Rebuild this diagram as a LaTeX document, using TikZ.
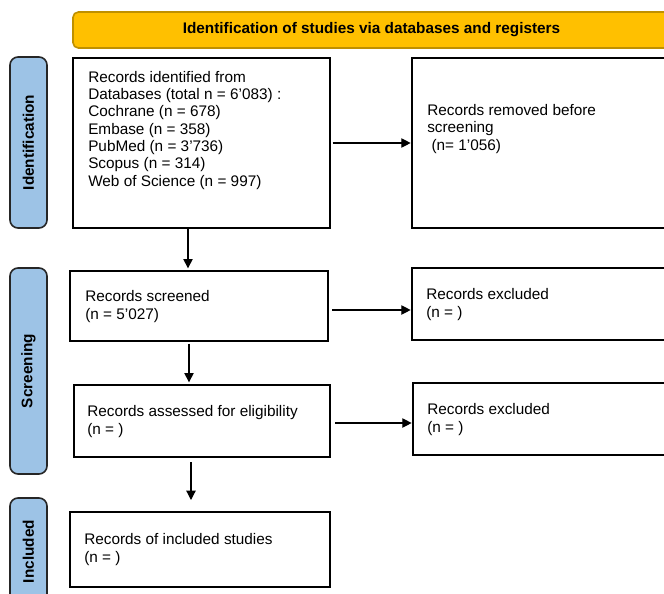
\documentclass[tikz,border=0pt]{standalone}
\usepackage{fontspec}
\setmainfont{Liberation Sans}
\usetikzlibrary{arrows.meta}
\definecolor{bannerfill}{HTML}{FFC000}
\definecolor{bannerline}{HTML}{BF9000}
\definecolor{barfill}{HTML}{9DC3E6}

\begin{document}
\begin{tikzpicture}[x=0.75pt,y=-0.75pt,
	>={Triangle[length=7pt,width=7pt]},
	boxsize/.style 2 args={minimum width=#1*0.75pt,minimum height=#2*0.75pt},
	recbox/.style={draw,line width=1.4pt,inner sep=0pt,outer sep=0pt},
	rectext/.style={anchor=base west,align=left,inner sep=0pt,font=\fontsize{11.5}{13}\selectfont},
	phasebar/.style={draw=black!85,fill=barfill,line width=1.2pt,rounded corners=6pt,rotate=90,inner sep=0pt,font=\fontsize{11.5}{13}\selectfont\bfseries},
	banner/.style={draw=bannerline,fill=bannerfill,line width=1.2pt,rounded corners=4pt,inner sep=0pt,font=\fontsize{11.5}{13}\selectfont\bfseries},
	flow/.style={->,line width=0.9pt}]
	 \useasboundingbox (0,0) rectangle (664,593);
	 \clip (0,0) rectangle (664,593);
	 
	 %Header
	 \node[banner,boxsize={597}{36}] (head) at (371.5,30) {Identification of studies via databases and registers};
	 
	 %Phase bars
	 \node[phasebar,boxsize={171}{37}] (idbar) at (28.5,142.5) {Identification};
	 \node[phasebar,boxsize={206}{37}] (scrbar) at (28.5,371) {Screening};
	 \node[phasebar,boxsize={107}{37}] (incbar) at (28.5,551.5) {Included};
	 
	 %Identification (text nodes sit on the baseline of their last line)
	 \node[recbox,boxsize={257}{170}] (idbox) at (201.5,143) {};
	 \node[rectext] (idtext) at (88,186) {Records identified from\\Databases (total n = 6'083) :\\Cochrane (n = 678)\\Embase (n = 358)\\PubMed (n = 3'736)\\Scopus (n = 314)\\Web of Science (n = 997)};
	 \node[recbox,boxsize={278}{170}] (rmbox) at (551,143) {};
	 \node[rectext] (rmtext) at (427,150) {Records removed before\\screening\\~(n= 1'056)};
	 
	 \draw[flow,shorten <=2pt,shorten >=1pt] (idbox) -- (rmbox);
	 
	 %Screening
	 \node[recbox,boxsize={258}{70}] (scrbox) at (199,306) {};
	 \node[rectext] (scrtext) at (85,319) {Records screened\\(n = 5'027)};
	 \node[recbox,boxsize={278}{72}] (exbox) at (551,304) {};
	 \node[rectext] (extext) at (426,317) {Records excluded\\(n = )};
	 
	 \draw[flow,shorten >=2pt] (188,0 |- idbox.south) -- (188,0 |- scrbox.north);
	 \draw[flow,shorten <=3pt,shorten >=1pt] (scrbox.east |- 0,310) -- (exbox.west |- 0,310);
	 
	 \node[recbox,boxsize={256}{72}] (elbox) at (202,421) {};
	 \node[rectext] (eltext) at (87,434) {Records assessed for eligibility\\(n = )};
	 \node[recbox,boxsize={277}{72}] (exbox2) at (551.5,419) {};
	 \node[rectext] (extext2) at (427,432) {Records excluded\\(n = )};
	 
	 \draw[flow,shorten <=2pt,shorten >=2pt] (189,0 |- scrbox.south) -- (189,0 |- elbox.north);
	 \draw[flow,shorten <=4pt,shorten >=1pt] (elbox.east |- 0,423) -- (exbox2.west |- 0,423);
	 
	 %Included
	 \node[recbox,boxsize={260}{75}] (incbox) at (200,549.5) {};
	 \node[rectext] (inctext) at (84,562) {Records of included studies\\(n = )};
	 
	 \draw[flow,shorten <=4pt,shorten >=9pt] (191,0 |- elbox.south) -- (191,0 |- incbox.north);
\end{tikzpicture}
\end{document}
